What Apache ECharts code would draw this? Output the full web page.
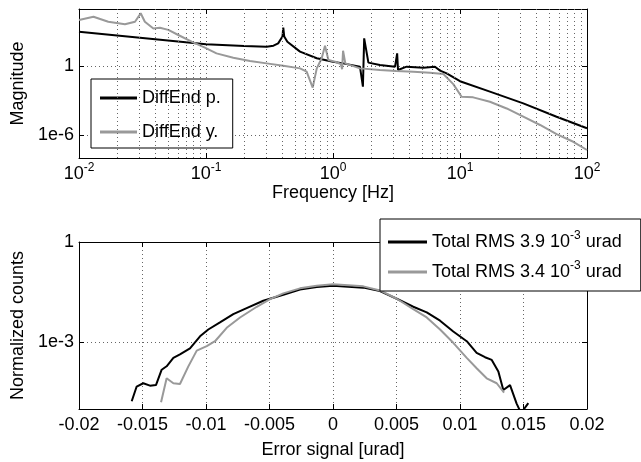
<!DOCTYPE html>
<html>
<head>
<meta charset="utf-8">
<script src="https://cdn.jsdelivr.net/npm/echarts@6/dist/echarts.min.js"></script>
<style>
html, body { margin: 0; padding: 0; background: #fff; }
#chart { width: 641px; height: 462px; }
</style>
</head>
<body>
<div id="chart"></div>
<script>
// upper panel: transfer magnitude vs frequency
var freqP = [0.01, 0.1, 0.2, 0.3, 0.34, 0.37, 0.40, 0.406, 0.413, 0.437, 0.55, 0.745, 1.0, 1.2, 1.63, 1.72, 1.76, 1.9, 2.34, 3.08, 3.2, 3.25, 3.8, 5.14, 6.35, 6.97, 7.85, 10, 17.2, 31.5, 57.6, 100];
var magP = [1050, 83, 60, 51, 63, 100, 400, 2340, 400, 141, 19, 5.0, 2.5, 1.8, 0.93, 0.0166, 275, 2.1, 1.29, 0.93, 13.5, 0.48, 0.93, 0.76, 0.93, 0.42, 0.245, 0.05, 6.2e-3, 5.9e-4, 4.0e-5, 3.9e-6];
var freqY = [0.01, 0.013, 0.017, 0.023, 0.0276, 0.0306, 0.033, 0.0385, 0.0434, 0.0505, 0.0605, 0.077, 0.098, 0.121, 0.164, 0.222, 0.30, 0.406, 0.55, 0.62, 0.692, 0.745, 0.815, 0.865, 0.92, 1.04, 1.15, 1.18, 1.2, 1.25, 1.63, 2.34, 3.14, 4.3, 5.8, 7.4, 8.85, 10.3, 12.7, 17.2, 23.3, 31.5, 42.7, 57.6, 78, 100];
var magY = [1.1e4, 2.1e4, 7.8e3, 4.6e3, 7.8e3, 4.2e4, 7.8e3, 2.0e3, 2.3e3, 1.5e3, 540, 141, 42, 13.5, 5.6, 2.9, 1.8, 1.12, 0.66, 0.34, 0.0138, 0.66, 5.0, 63, 3.5, 2.5, 1.6, 0.55, 23, 1.8, 0.66, 0.48, 0.39, 0.34, 0.275, 0.214, 0.028, 2.2e-3, 1.95e-3, 8.1e-4, 2.1e-4, 4.0e-5, 7.6e-6, 1.2e-6, 2.6e-7, 5.0e-8];

// lower panel: error signal distribution
var errP = [-0.01585, -0.01546, -0.01494, -0.01441, -0.01394, -0.01349, -0.0131, -0.01257, -0.01205, -0.01126, -0.01047, -0.00982, -0.0089, -0.00785, -0.0068, -0.00549, -0.00391, -0.0026, -0.00128, 0, 0.00239, 0.0037, 0.00502, 0.00632, 0.00738, 0.00843, 0.00947, 0.01053, 0.01131, 0.01197, 0.0125, 0.01302, 0.01341, 0.01394, 0.01446, 0.01472, 0.01498, 0.01538];
var cntP = [1.7e-5, 4.7e-5, 5.9e-5, 5.0e-5, 5.2e-5, 1.5e-4, 1.9e-4, 3.4e-4, 4.3e-4, 6.5e-4, 1.5e-3, 2.4e-3, 3.9e-3, 6.9e-3, 1.05e-2, 1.74e-2, 2.63e-2, 3.8e-2, 4.5e-2, 4.9e-2, 4.3e-2, 3.4e-2, 2.0e-2, 1.15e-2, 7.8e-3, 4.4e-3, 2.1e-3, 1.07e-3, 4.8e-4, 3.55e-4, 2.95e-4, 1.32e-4, 3.7e-5, 5.2e-5, 1.45e-5, 8.9e-6, 9.3e-6, 1.5e-5];
var errY = [-0.01354, -0.0131, -0.01257, -0.01205, -0.0114, -0.01073, -0.00994, -0.00929, -0.00837, -0.00732, -0.006, -0.00496, -0.00391, -0.0026, -0.00128, 0, 0.00239, 0.0037, 0.00502, 0.00632, 0.00738, 0.00843, 0.00947, 0.01053, 0.01131, 0.0121, 0.01289, 0.01347];
var cntY = [1.6e-5, 8.3e-5, 5.9e-5, 5.6e-5, 1.86e-4, 5.6e-4, 7.6e-4, 1.07e-3, 2.7e-3, 5.5e-3, 1.15e-2, 1.95e-2, 2.9e-2, 4.1e-2, 4.9e-2, 5.4e-2, 4.7e-2, 3.55e-2, 2.0e-2, 9.8e-3, 5.5e-3, 2.4e-3, 9.6e-4, 3.4e-4, 1.66e-4, 8.3e-5, 5.9e-5, 3.1e-5];

var namesTop = ['DiffEnd p.', 'DiffEnd y.'];
var rmsVals = ['3.9', '3.4'];
var decades = [0.01, 0.1, 1, 10];
var minorSteps = [2, 3, 4, 5, 6, 7, 8, 9];
var magTicks = [1e-6, 1];
var cntTicks = [1e-3, 1];

var FONT = 'Liberation Sans, Arial, sans-serif';
var FS = 18;
var dotted = { type: [1, 3], color: '#666', width: 1 };
var black = { color: '#000' };

function pairs(xs, ys) {
  return xs.map(function (x, i) { return [x, ys[i]]; });
}
function expOf(v) { return Math.round(Math.log(v) / Math.LN10); }
function logLabel(v) { var e = expOf(v); return e === 0 ? '1' : '1e' + e; }

// minor log grid for the frequency axis
var minorGrid = [];
decades.forEach(function (d) {
  minorSteps.forEach(function (m) { minorGrid.push({ xAxis: m * d }); });
});

var chart = echarts.init(document.getElementById('chart'));

var baseLabel = { color: '#000', fontFamily: FONT, fontSize: FS };
var line = { onZero: false, lineStyle: black };
var tick = { inside: true, length: 5, lineStyle: black };

var option = {
  animation: false,
  textStyle: { fontFamily: FONT },
  grid: [
    { left: 79, right: 54, top: 9, bottom: 304 },
    { left: 79, right: 54, top: 242, bottom: 53 }
  ],
  legend: [
    {
      data: namesTop,
      orient: 'vertical',
      left: 91, top: 79,
      padding: [9, 12, 6, 9],
      itemGap: 14,
      itemWidth: 37, itemHeight: 3,
      icon: 'rect',
      backgroundColor: '#fff',
      borderColor: '#000', borderWidth: 1, borderRadius: 0,
      textStyle: { color: '#000', fontFamily: FONT, fontSize: FS, lineHeight: 20 }
    },
    {
      data: rmsVals.map(function (r) { return 'Total RMS ' + r; }),
      orient: 'vertical',
      left: 380, top: 219,
      padding: [11, 19, 7, 8],
      itemGap: 6,
      itemWidth: 39, itemHeight: 3,
      icon: 'rect',
      backgroundColor: '#fff',
      borderColor: '#000', borderWidth: 1, borderRadius: 0,
      formatter: function (name) { return '{t|' + name + ' 10}{s|-3}{t| urad}'; },
      textStyle: {
        color: '#000', fontFamily: FONT, fontSize: FS, lineHeight: 24,
        rich: {
          t: { fontSize: FS, fontFamily: FONT, lineHeight: 24 },
          s: { fontSize: 12, fontFamily: FONT, verticalAlign: 'top' }
        }
      }
    }
  ],
  xAxis: [
    {
      gridIndex: 0, type: 'log', logBase: 10, min: 0.01, max: 100,
      name: 'Frequency [Hz]', nameLocation: 'middle', nameGap: 26,
      nameTextStyle: baseLabel,
      axisLine: line, axisTick: tick,
      axisLabel: {
        margin: 4,
        formatter: function (v) { return '{b|10}{s|' + expOf(v) + '}'; },
        rich: {
          b: { fontSize: FS, fontFamily: FONT, color: '#000', lineHeight: 24 },
          s: { fontSize: 12, fontFamily: FONT, color: '#000', verticalAlign: 'top' }
        }
      },
      splitLine: { show: true, lineStyle: dotted }
    },
    {
      gridIndex: 0, type: 'log', logBase: 10, min: 0.01, max: 100, position: 'top',
      axisLine: line, axisTick: tick,
      axisLabel: { show: false }, splitLine: { show: false }
    },
    {
      gridIndex: 1, type: 'value', min: -0.02, max: 0.02, interval: 0.005,
      name: 'Error signal [urad]', nameLocation: 'middle', nameGap: 32,
      nameTextStyle: baseLabel,
      axisLine: line, axisTick: tick,
      axisLabel: Object.assign({ margin: 7 }, baseLabel),
      splitLine: { show: true, lineStyle: dotted }
    },
    {
      gridIndex: 1, type: 'value', min: -0.02, max: 0.02, interval: 0.005, position: 'top',
      axisLine: line, axisTick: tick,
      axisLabel: { show: false }, splitLine: { show: false }
    }
  ],
  yAxis: [
    {
      gridIndex: 0, type: 'log', logBase: 10, min: 1e-8, max: 1e5,
      name: 'Magnitude', nameLocation: 'middle', nameGap: 50,
      nameTextStyle: baseLabel,
      axisLine: line,
      axisTick: Object.assign({ customValues: magTicks }, tick),
      axisLabel: Object.assign({ margin: 5, customValues: magTicks, formatter: logLabel }, baseLabel),
      splitLine: { show: true, lineStyle: dotted }
    },
    {
      gridIndex: 0, type: 'log', logBase: 10, min: 1e-8, max: 1e5, position: 'right',
      axisLine: line,
      axisTick: Object.assign({ customValues: magTicks }, tick),
      axisLabel: { show: false }, splitLine: { show: false }
    },
    {
      gridIndex: 1, type: 'log', logBase: 10, min: 1e-5, max: 1,
      name: 'Normalized counts', nameLocation: 'middle', nameGap: 50,
      nameTextStyle: baseLabel,
      axisLine: line,
      axisTick: Object.assign({ customValues: cntTicks }, tick),
      axisLabel: Object.assign({ margin: 5, customValues: cntTicks, formatter: logLabel }, baseLabel),
      splitLine: { show: true, lineStyle: dotted }
    },
    {
      gridIndex: 1, type: 'log', logBase: 10, min: 1e-5, max: 1, position: 'right',
      axisLine: line,
      axisTick: Object.assign({ customValues: cntTicks }, tick),
      axisLabel: { show: false }, splitLine: { show: false }
    }
  ],
  series: [
    {
      name: 'grid-top', type: 'line', xAxisIndex: 0, yAxisIndex: 0, data: [], silent: true,
      markLine: {
        silent: true, symbol: 'none', label: { show: false },
        lineStyle: dotted, animation: false,
        data: minorGrid
      }
    },
    {
      name: namesTop[0], type: 'line', xAxisIndex: 0, yAxisIndex: 0, z: 3,
      showSymbol: false, symbol: 'none', color: '#000',
      lineStyle: { width: 2, color: '#000' },
      data: pairs(freqP, magP)
    },
    {
      name: namesTop[1], type: 'line', xAxisIndex: 0, yAxisIndex: 0, z: 3,
      showSymbol: false, symbol: 'none', color: '#999',
      lineStyle: { width: 2, color: '#999' },
      data: pairs(freqY, magY)
    },
    {
      name: 'Total RMS ' + rmsVals[0], type: 'line', xAxisIndex: 2, yAxisIndex: 2, z: 3,
      showSymbol: false, symbol: 'none', color: '#000',
      lineStyle: { width: 2, color: '#000' },
      data: pairs(errP, cntP)
    },
    {
      name: 'Total RMS ' + rmsVals[1], type: 'line', xAxisIndex: 2, yAxisIndex: 2, z: 3,
      showSymbol: false, symbol: 'none', color: '#999',
      lineStyle: { width: 2, color: '#999' },
      data: pairs(errY, cntY)
    }
  ]
};

chart.setOption(option);
</script>
</body>
</html>
